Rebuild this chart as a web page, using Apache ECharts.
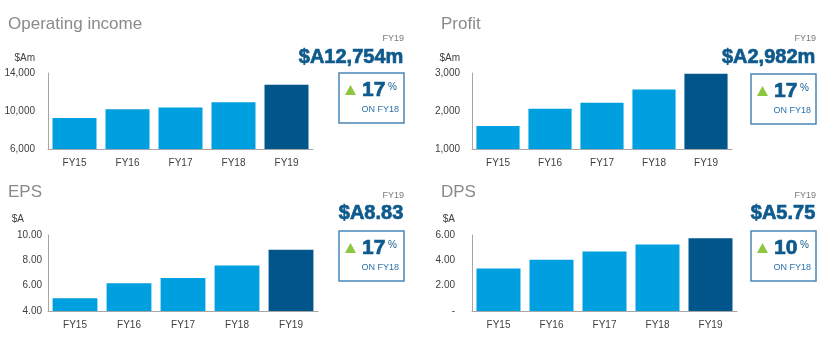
<!DOCTYPE html>
<html><head><meta charset="utf-8">
<script src="https://cdn.jsdelivr.net/npm/echarts@6/dist/echarts.min.js"></script>
<style>html,body{margin:0;padding:0;background:#fff}#c{width:829px;height:350px}</style>
</head><body><div id="c"></div>
<script>
const years = ['FY15', 'FY16', 'FY17', 'FY18', 'FY19'];
const opIncome = [9260, 10180, 10360, 10920, 12754];
const profit = [1605, 2060, 2220, 2565, 2982];
const eps = [5.00, 6.20, 6.60, 7.60, 8.83];
const dps = [3.35, 4.05, 4.70, 5.25, 5.75];

const titles = ['Operating income', 'Profit', 'EPS', 'DPS'];
const units = ['$Am', '$Am', '$A', '$A'];
const headline = ['$A12,754m', '$A2,982m', '$A8.83', '$A5.75'];
const growth = ['17', '17', '17', '10'];
const yTicks = [[6000, 14000, 4000], [1000, 3000, 1000], [4, 10, 2], [0, 6, 2]];

const LIGHT = '#009fdf', DARK = '#00558b';
const FONT = 'Liberation Sans';
const W = 829;

const layout = [
  {left: 48, width: 265, top: 73, height: 76, ox: 0, oy: 0, unitX: 35, labM: 13, boxL: 339, boxR: 404, boxT: 73},
  {left: 472, width: 260, top: 73, height: 76, ox: 415, oy: 0, unitX: 460, labM: 12, boxL: 751, boxR: 816, boxT: 74},
  {left: 48, width: 270, top: 235, height: 76, ox: 0, oy: 175, unitX: 24, labM: 6, boxL: 339, boxR: 404, boxT: 231},
  {left: 472, width: 265, top: 235, height: 76, ox: 415, oy: 175, unitX: 455, labM: 17, boxL: 751, boxR: 816, boxT: 231}
];
const seriesData = [opIncome, profit, eps, dps];
const fmts = [
  v => v.toLocaleString('en-US'),
  v => v.toLocaleString('en-US'),
  v => v.toFixed(2),
  v => v === 0 ? '-' : v.toFixed(2)
];

function txt(x, y, text, fill, size, align) {
  return {type: 'text', x: x, y: y, style: {text, fill, fontSize: size,
    fontFamily: FONT, align: align || 'left', verticalAlign: 'middle'}};
}

const grid = [], xAxis = [], yAxis = [], series = [], graphic = [], title = [];
layout.forEach((L, i) => {
  grid.push({left: L.left, top: L.top, width: L.width, height: L.height, containLabel: false});
  xAxis.push({type: 'category', gridIndex: i, data: years,
    axisLine: {lineStyle: {color: '#a6a6a6', width: 1}}, axisTick: {show: false},
    axisLabel: {color: '#404040', fontSize: 10, fontFamily: FONT, margin: 9}});
  yAxis.push({type: 'value', gridIndex: i, min: yTicks[i][0], max: yTicks[i][1], interval: yTicks[i][2],
    axisLine: {show: true, lineStyle: {color: '#a6a6a6', width: 1}}, axisTick: {show: false},
    splitLine: {show: false},
    axisLabel: {color: '#404040', fontSize: 10, fontFamily: FONT, margin: L.labM, formatter: fmts[i]}});
  series.push({type: 'bar', xAxisIndex: i, yAxisIndex: i, barCategoryGap: '17%',
    data: seriesData[i].map((v, k) => ({value: v, itemStyle: {color: k === 4 ? DARK : LIGHT}})),
    silent: true, animation: false});
  graphic.push(txt(L.ox + (i % 2 ? 26 : 8), L.oy + (i < 2 ? 24 : 17), titles[i], '#8a8a8a', 17));
  graphic.push(txt(L.unitX, L.oy + (i < 2 ? 58 : 44), units[i], '#404040', 10, 'right'));
  graphic.push(txt(L.boxR, L.oy + (i < 2 ? 39 : 21), 'FY19', '#7a7a7a', 9, 'right'));
  title.push({text: headline[i], right: W - L.boxR, top: L.oy + (i < 2 ? 58 : 39) - 11, padding: 0,
    textStyle: {fontFamily: FONT, fontSize: 20, fontWeight: 'bold', color: '#0f5a8d',
      textBorderColor: '#0f5a8d', textBorderWidth: 0.7}});
  graphic.push({type: 'rect', shape: {x: L.boxL, y: L.boxT, width: L.boxR - L.boxL, height: 50},
    style: {fill: 'none', stroke: '#4a85b6', lineWidth: 1.5}});
  const cy = L.boxT + 17;
  graphic.push({type: 'polygon', shape: {points: [[L.boxL + 6, cy + 5], [L.boxL + 17, cy + 5], [L.boxL + 11.5, cy - 5]]},
    style: {fill: '#8dc63f'}});
  title.push({text: growth[i], left: L.boxL + 23, top: cy + 1 - 11, padding: 0,
    textStyle: {fontFamily: FONT, fontSize: 21, fontWeight: 'bold', color: '#0f5a8d',
      textBorderColor: '#0f5a8d', textBorderWidth: 0.7}});
  graphic.push(txt(L.boxL + 49, cy - 3, '%', '#0f5a8d', 10));
  graphic.push(txt(L.boxR - 5, L.boxT + 37, 'ON FY18', '#2a72ad', 9, 'right'));
});

const chart = echarts.init(document.getElementById('c'), null, {renderer: 'canvas'});
chart.setOption({animation: false, title, grid, xAxis, yAxis, series, graphic});
</script></body></html>
